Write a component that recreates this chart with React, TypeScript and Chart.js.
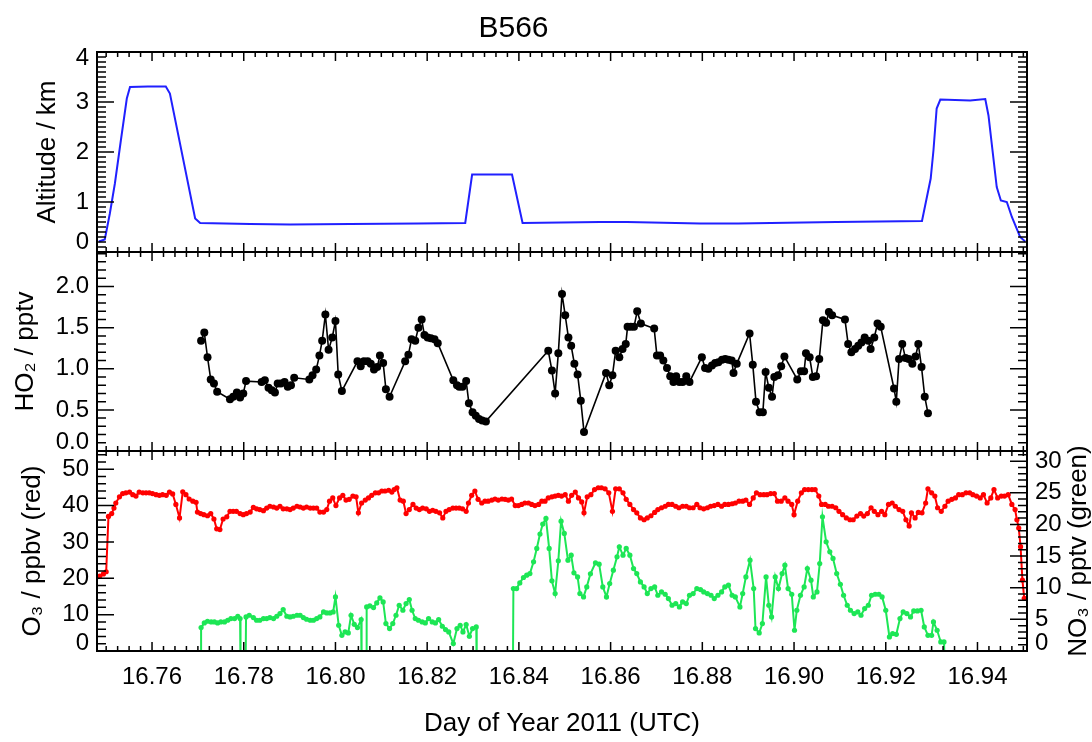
import React, { useEffect, useRef } from "react";
import { Chart, registerables } from "chart.js";

Chart.register(...registerables);

const FONT = "'Liberation Sans', Arial, Helvetica, sans-serif";
const PAGE_W = 1092;
const PAGE_H = 742;
const PLOT_LEFT = 97;
const PLOT_RIGHT = 1027;
const ALT_TOP = 52;
const ALT_BOTTOM = 252;
const HO2_BOTTOM = 451;
const O3_BOTTOM = 651;

const DAY_MIN = 16.748;
const DAY_MAX = 16.9508;

const dayTicks = [16.76, 16.78, 16.8, 16.82, 16.84, 16.86, 16.88, 16.9, 16.92, 16.94];
const altTicks = [0, 1, 2, 3, 4];
const ho2Ticks = [0, 0.5, 1.0, 1.5, 2.0];
const o3Ticks = [0, 10, 20, 30, 40, 50];
const no3Ticks = [0, 5, 10, 15, 20, 25, 30];

// Altitude (km)
const altDay = [
  16.7484, 16.7497, 16.7508, 16.7519, 16.7532, 16.7545, 16.7552, 16.7591, 16.763, 16.7639,
  16.7694, 16.7705, 16.7814, 16.7901, 16.8032, 16.818, 16.8283, 16.8298, 16.8337, 16.8385,
  16.8408, 16.8577, 16.8636, 16.8795, 16.8878, 16.9092, 16.9279, 16.9298, 16.9304, 16.9311,
  16.9319, 16.9384, 16.9417, 16.9424, 16.9442, 16.9451, 16.9464, 16.9475, 16.9493, 16.9504,
];
const altKm = [
  0.21, 0.25, 0.77, 1.37, 2.23, 3.07, 3.3, 3.31, 3.31, 3.17,
  0.67, 0.58, 0.56, 0.55, 0.56, 0.57, 0.58, 1.55, 1.55, 1.55,
  0.58, 0.6, 0.6, 0.57, 0.57, 0.6, 0.62, 1.47, 2.03, 2.87,
  3.05, 3.03, 3.06, 2.73, 1.3, 1.03, 1.0, 0.7, 0.3, 0.21,
];

// HO2 (pptv)
const ho2Day = [
  16.7707, 16.7714, 16.7721, 16.7728, 16.7735, 16.7742, 16.777, 16.7777, 16.7785, 16.7792,
  16.7799, 16.7805, 16.7839, 16.7846, 16.7854, 16.7861, 16.7868, 16.7874, 16.7881, 16.7889,
  16.7896, 16.7903, 16.791, 16.7943, 16.795, 16.7958, 16.7965, 16.7971, 16.7978, 16.7985,
  16.7993, 16.8, 16.8006, 16.8014, 16.8048, 16.8055, 16.8062, 16.807, 16.8077, 16.8084,
  16.8091, 16.8097, 16.8104, 16.811, 16.8118, 16.8152, 16.8159, 16.8166, 16.8174, 16.8181,
  16.8188, 16.8194, 16.8201, 16.8208, 16.8216, 16.8223, 16.8257, 16.8265, 16.827, 16.8277,
  16.8285, 16.8291, 16.8299, 16.8306, 16.8313, 16.832, 16.8328,
  16.8464, 16.8472, 16.8479, 16.8486, 16.8494, 16.8501, 16.8508, 16.8514, 16.8521, 16.8528,
  16.8535, 16.8542, 16.859, 16.8597, 16.8604, 16.8611, 16.8619, 16.8626, 16.8633, 16.8637,
  16.8644, 16.8651, 16.8658, 16.8666, 16.8695, 16.8701, 16.8708, 16.8715, 16.8723, 16.873,
  16.8737, 16.8743, 16.875, 16.8757, 16.8765, 16.8772, 16.8799, 16.8806, 16.8813, 16.8821,
  16.8828, 16.8835, 16.8843, 16.885, 16.8857, 16.8864, 16.8868, 16.8875, 16.8903, 16.891,
  16.8917, 16.8925, 16.8932, 16.8938, 16.8945, 16.8952, 16.8957, 16.8965, 16.8972, 16.8979,
  16.9007, 16.9015, 16.9022, 16.9026, 16.9034, 16.9041, 16.9048, 16.9055, 16.9063, 16.907,
  16.9076, 16.9083, 16.9111, 16.9118, 16.9125, 16.9133, 16.914, 16.9147, 16.9154, 16.9162,
  16.9167, 16.9175, 16.9182, 16.9189, 16.9218, 16.9223, 16.9229, 16.9236, 16.9243, 16.925,
  16.9258, 16.9265, 16.9271, 16.9278, 16.9285, 16.9292,
];
const ho2Pptv = [
  1.34, 1.44, 1.14, 0.87, 0.82, 0.72, 0.63, 0.66, 0.71, 0.65,
  0.7, 0.85, 0.84, 0.86, 0.77, 0.74, 0.71, 0.82, 0.82, 0.84,
  0.78, 0.8, 0.89, 0.87, 0.92, 0.99, 1.16, 1.34, 1.66, 1.23,
  1.38, 1.58, 0.93, 0.73, 1.09, 1.03, 1.09, 1.09, 1.06, 0.99,
  1.02, 1.16, 1.07, 0.75, 0.66, 1.09, 1.17, 1.36, 1.34, 1.5,
  1.6, 1.41, 1.38, 1.37, 1.36, 1.31, 0.86, 0.8, 0.78, 0.78,
  0.85, 0.58, 0.47, 0.43, 0.39, 0.37, 0.36,
  1.22, 0.98, 0.7, 1.19, 1.91, 1.65, 1.38, 1.28, 1.06, 0.93,
  0.61, 0.23, 0.95, 0.8, 0.92, 1.22, 1.14, 1.24, 1.3, 1.51,
  1.51, 1.51, 1.7, 1.55, 1.49, 1.16, 1.16, 1.1, 1.01, 0.91,
  0.84, 0.91, 0.84, 0.84, 0.91, 0.84, 1.14, 1.01, 1.0, 1.04,
  1.07, 1.08, 1.11, 1.12, 1.11, 1.1, 0.95, 1.06, 1.43, 1.05,
  0.6, 0.47, 0.47, 0.96, 0.77, 0.66, 0.9, 0.92, 1.03, 1.15,
  0.87, 0.97, 0.97, 1.19, 1.14, 0.9, 0.91, 1.12, 1.59, 1.56,
  1.69, 1.65, 1.6, 1.3, 1.2, 1.24, 1.28, 1.32, 1.38, 1.34,
  1.24, 1.38, 1.55, 1.51, 0.76, 0.6, 1.12, 1.3, 1.13, 1.12,
  1.06, 1.15, 1.3, 1.02, 0.66, 0.46,
];

// O3 (ppbv)
const o3Day = [
  16.7479, 16.7486, 16.7494, 16.75, 16.7505, 16.7512, 16.7517, 16.7521, 16.7529, 16.7536,
  16.7543, 16.7551, 16.7558, 16.7565, 16.7572, 16.758, 16.7587, 16.7594, 16.7601, 16.7609,
  16.7616, 16.7623, 16.7631, 16.7638, 16.7645, 16.7652, 16.766, 16.7667, 16.7674, 16.7681,
  16.7689, 16.7696, 16.7699, 16.7706, 16.7713, 16.7721, 16.7728, 16.7735, 16.7741, 16.7748,
  16.7755, 16.7763, 16.777, 16.7777, 16.7784, 16.7792, 16.7799, 16.7806, 16.7814, 16.7821,
  16.7828, 16.7835, 16.7843, 16.785, 16.7857, 16.7865, 16.7872, 16.7879, 16.7886, 16.7894,
  16.7901, 16.7908, 16.7916, 16.7923, 16.793, 16.7937, 16.7945, 16.7952, 16.7959, 16.7966,
  16.7974, 16.7981, 16.7987, 16.7994, 16.8001, 16.8009, 16.8016, 16.8023, 16.803, 16.8038,
  16.8045, 16.805, 16.8057, 16.8065, 16.8072, 16.8079, 16.8087, 16.8094, 16.8101, 16.8108,
  16.8116, 16.8123, 16.8128, 16.8134, 16.8141, 16.8148, 16.8154, 16.8161, 16.8169, 16.8176,
  16.8183, 16.819, 16.8198, 16.8205, 16.8212, 16.8219, 16.8227, 16.8234, 16.8241, 16.8248,
  16.8256, 16.8263, 16.827, 16.8277, 16.8285, 16.829, 16.8297, 16.8304, 16.8311, 16.8319,
  16.8326, 16.8333, 16.8341, 16.8348, 16.8355, 16.8363, 16.837, 16.8377, 16.8384, 16.8392,
  16.8399, 16.8406, 16.8413, 16.8421, 16.8428, 16.8435, 16.8443, 16.845, 16.8457, 16.8464,
  16.8472, 16.8479, 16.8486, 16.8493, 16.8501, 16.8508, 16.8515, 16.8523, 16.853, 16.8537,
  16.8542, 16.8549, 16.8557, 16.8565, 16.8573, 16.858, 16.8588, 16.8596, 16.8604, 16.8611,
  16.8619, 16.8627, 16.8634, 16.8642, 16.865, 16.8657, 16.8665, 16.8673, 16.868, 16.8688,
  16.8696, 16.8703, 16.8711, 16.8719, 16.8726, 16.8734, 16.8742, 16.8749, 16.8757, 16.8765,
  16.8772, 16.878, 16.8788, 16.8795, 16.8803, 16.8811, 16.8818, 16.8826, 16.8834, 16.8842,
  16.8849, 16.8857, 16.8865, 16.8872, 16.888, 16.8888, 16.8895, 16.8903, 16.8911, 16.8918,
  16.8926, 16.8934, 16.8941, 16.8949, 16.8957, 16.8964, 16.8972, 16.898, 16.8987, 16.8995,
  16.9, 16.9008, 16.9016, 16.9023, 16.9031, 16.9039, 16.9046, 16.9054, 16.906, 16.9068,
  16.9075, 16.9083, 16.9091, 16.9098, 16.9106, 16.9114, 16.9122, 16.9129, 16.9137, 16.9145,
  16.9152, 16.916, 16.9168, 16.9175, 16.9183, 16.9191, 16.9198, 16.9206, 16.9214, 16.9221,
  16.9229, 16.9237, 16.9244, 16.9251, 16.9256, 16.9264, 16.9271, 16.9279, 16.9287, 16.9292,
  16.93, 16.9307, 16.9313, 16.9321, 16.9329, 16.9336, 16.9344, 16.9352, 16.9359, 16.9367,
  16.9375, 16.9383, 16.939, 16.9398, 16.9406, 16.9413, 16.9421, 16.9429, 16.9436, 16.9444,
  16.9452, 16.9459, 16.9467, 16.9475, 16.9482, 16.9486, 16.949, 16.9494, 16.9498, 16.9502,
];
const o3Ppbv = [
  20.3, 20.6, 21.2, 21.8, 37.0, 37.8, 39.3, 40.7, 42.4, 43.3,
  43.5, 43.7, 43.0, 42.6, 43.7, 43.5, 43.5, 43.5, 43.3, 43.0,
  42.8, 43.0, 42.8, 43.7, 43.2, 40.3, 36.6, 43.8, 43.0, 41.8,
  41.2, 40.9, 38.2, 37.8, 37.5, 37.2, 37.8, 36.3, 33.6, 33.4,
  36.3, 36.9, 38.4, 38.4, 38.4, 37.8, 37.5, 37.8, 38.2, 39.5,
  39.1, 38.9, 38.6, 39.3, 39.8, 39.6, 39.3, 39.8, 39.1, 39.1,
  38.9, 39.3, 39.8, 39.6, 39.3, 39.6, 39.3, 39.3, 39.3, 38.2,
  38.2, 38.9, 41.2, 42.1, 40.0, 42.1, 42.8, 41.5, 41.7, 42.6,
  42.4, 38.0, 40.7, 41.5, 42.1, 42.8, 43.5, 43.5, 44.0, 44.0,
  44.2, 43.7, 44.4, 44.9, 41.5, 41.2, 37.8, 38.9, 40.3, 39.3,
  38.9, 39.3, 39.1, 38.4, 38.7, 38.4, 38.0, 36.6, 38.4, 38.9,
  39.3, 39.3, 39.3, 39.1, 38.4, 40.7, 42.8, 44.0, 41.7, 40.7,
  41.2, 41.2, 41.5, 41.8, 41.5, 41.8, 41.7, 41.5, 41.8, 40.0,
  40.0, 40.3, 40.7, 40.7, 40.3, 40.0, 40.3, 41.2, 41.2, 42.1,
  42.4, 42.6, 42.8, 42.6, 43.0, 41.2, 42.8, 43.7, 42.1, 41.0,
  38.0, 42.4, 43.0, 44.4, 44.9, 44.9, 44.6, 43.5, 38.4, 44.6,
  44.6, 43.5, 41.7, 40.3, 38.9, 38.0, 36.6, 36.1, 36.6, 37.2,
  38.1, 38.9, 39.4, 39.8, 40.3, 40.3, 39.8, 39.4, 39.8, 39.8,
  39.4, 39.4, 40.3, 39.4, 39.1, 39.4, 39.8, 40.0, 40.3, 39.8,
  40.3, 40.3, 40.5, 40.7, 41.2, 41.2, 41.5, 40.3, 42.1, 43.5,
  43.0, 43.0, 43.0, 43.3, 43.3, 41.2, 41.2, 42.1, 41.2, 40.3,
  37.5, 41.2, 43.5, 44.4, 44.4, 44.4, 44.4, 42.6, 40.3, 40.3,
  39.8, 39.8, 39.4, 38.4, 37.5, 36.6, 36.1, 36.1, 37.1, 37.8,
  37.1, 37.8, 39.4, 38.4, 37.5, 38.4, 37.5, 40.3, 40.7, 39.8,
  38.9, 38.4, 36.1, 34.4, 38.0, 36.6, 38.1, 38.0, 40.7, 44.6,
  43.5, 42.6, 39.4, 38.4, 39.8, 41.2, 41.7, 42.1, 43.0, 43.0,
  43.5, 43.5, 43.0, 42.6, 42.1, 43.0, 40.7, 42.1, 44.4, 42.1,
  42.6, 42.6, 43.0, 40.3, 38.9, 36.1, 33.8, 28.7, 19.5, 14.5,
];

// NO3 (pptv); values below the axis floor mark drop-outs, null marks a gap
const no3Day = [
  16.7707, 16.7707, 16.7714, 16.7721, 16.7729, 16.7736, 16.7743, 16.775, 16.7758, 16.7765,
  16.7772, 16.778, 16.7787, 16.7792, 16.7793, 16.7804, 16.7805, 16.7812, 16.7821, 16.7828,
  16.7835, 16.7843, 16.785, 16.7857, 16.7865, 16.7872, 16.7879, 16.7886, 16.7894, 16.7901,
  16.7908, 16.7916, 16.7923, 16.793, 16.7937, 16.7945, 16.7952, 16.7959, 16.7966, 16.7974,
  16.7981, 16.7988, 16.7995, 16.8, 16.8007, 16.8014, 16.8021, 16.8028, 16.8034, 16.8041,
  16.8048, 16.8056, 16.8057, 16.8067, 16.8068, 16.8075, 16.8083, 16.809, 16.8097, 16.8104,
  16.811, 16.8118, 16.8125, 16.8132, 16.8139, 16.8147, 16.8154, 16.8161, 16.8167, 16.8174,
  16.8181, 16.8189, 16.8196, 16.8203, 16.8211, 16.8218, 16.8225, 16.8233, 16.824, 16.8247,
  16.8257, 16.8265, 16.8272, 16.8278, 16.8285, 16.8292, 16.8299, 16.8307, 16.8308, 16.835,
  16.8387, 16.8388, 16.8395, 16.8402, 16.841, 16.8417, 16.8424, 16.8432, 16.8439, 16.8446,
  16.8452, 16.8459, 16.8466, 16.8472, 16.8479, 16.8486, 16.8492, 16.8499, 16.8507, 16.8514,
  16.852, 16.8528, 16.8533, 16.8541, 16.8548, 16.8556, 16.8567, 16.8575, 16.8583, 16.8591,
  16.8598, 16.8606, 16.8614, 16.8619, 16.8627, 16.8634, 16.8642, 16.865, 16.8657, 16.8665,
  16.8673, 16.868, 16.8688, 16.8696, 16.8703, 16.8711, 16.8719, 16.8726, 16.8734, 16.8742,
  16.875, 16.8757, 16.8765, 16.8772, 16.878, 16.8788, 16.8796, 16.8803, 16.8811, 16.8819,
  16.8826, 16.8834, 16.8842, 16.8849, 16.8857, 16.8865, 16.8872, 16.8882, 16.8888, 16.8895,
  16.8904, 16.8912, 16.8916, 16.8924, 16.8931, 16.8939, 16.8945, 16.8951, 16.8959, 16.8966,
  16.8974, 16.898, 16.8987, 16.8995, 16.9001, 16.9006, 16.9014, 16.9022, 16.9029, 16.9037,
  16.9042, 16.905, 16.9056, 16.9062, 16.907, 16.9078, 16.9085, 16.9093, 16.9101, 16.9108,
  16.9116, 16.9123, 16.9131, 16.9139, 16.9146, 16.9154, 16.9162, 16.9169, 16.9177, 16.9185,
  16.9192, 16.92, 16.9208, 16.9215, 16.9223, 16.9231, 16.9238, 16.9246, 16.9254, 16.9261,
  16.9269, 16.9277, 16.9284, 16.9292, 16.93, 16.9304, 16.9312, 16.932, 16.9327, 16.9329,
];
const no3Pptv = [
  -3, 3.7, 4.44, 4.7, 4.59, 4.59, 4.44, 4.59, 4.59, 4.86,
  5.12, 5.12, 5.49, 5.12, -3, -3, 5.38, 5.65, 5.28, 4.86,
  4.86, 5.12, 5.12, 5.28, 5.12, 5.49, 5.91, 6.55, 5.49, 5.38,
  5.49, 5.65, 5.65, 5.28, 5.02, 4.86, 4.86, 5.12, 5.38, 6.18,
  6.02, 6.02, 6.18, 8.55, 4.07, 2.48, 3.01, 2.85, 5.65, 4.22,
  3.7, 4.96, -3, -3, 6.97, 7.13, 6.86, 7.6, 8.39, 7.76,
  4.33, 3.54, 4.33, 5.65, 7.23, 6.44, 7.5, 8.13, 6.44, 5.12,
  4.86, 4.59, 4.44, 5.12, 4.59, 4.44, 4.96, 3.91, 3.38, 3.01,
  1.17, 3.54, 4.07, 3.01, 4.17, 2.33, 3.54, 3.8, -3, null,
  -3, 9.87, 9.87, 10.76, 11.61, 11.98, 12.24, 14.09, 16.2, 18.47,
  20.05, 20.94, 16.2, 11.08, 9.08, 14.25, 20.52, 18.57, 14.35, 15.14,
  12.35, 11.71, 9.08, 8.55, 10.13, 12.2, 13.93, 13.72, 10.13, 8.55,
  10.66, 12.77, 14.88, 16.46, 15.14, 16.2, 15.14, 13.03, 12.24, 10.92,
  10.13, 9.08, 9.87, 10.13, 8.81, 9.34, 8.97, 8.29, 7.23, 7.5,
  6.97, 7.76, 7.5, 8.81, 9.08, 9.87, 9.71, 9.34, 9.08, 8.81,
  8.29, 8.81, 9.34, 10.13, 10.4, 8.81, 8.55, 6.97, 9.08, 11.71,
  14.35, 9.87, 3.54, 2.85, 4.33, 11.71, 7.23, 5.38, 11.71, 9.87,
  12.24, 13.56, 9.87, 8.97, 3.28, 6.44, 8.81, 10.13, 13.03, 11.19,
  8.55, 9.34, 13.82, 21.21, 17.25, 15.67, 14.62, 12.24, 10.55, 8.81,
  7.23, 6.44, 5.91, 6.18, 5.65, 6.7, 7.23, 8.81, 8.97, 8.97,
  8.55, 6.44, 2.22, 2.75, 2.64, 5.12, 6.18, 5.91, 5.38, 6.33,
  6.33, 6.44, 3.8, 2.48, 2.48, 4.59, 3.28, 1.43, 1.43, -3,
];

const pairs = (xs: number[], ys: (number | null)[]) => xs.map((x, i) => ({ x, y: ys[i] }));

const TICK_SIZE = 24;
const tickFont = { family: FONT, size: TICK_SIZE };
const axisTitleFont = { family: FONT, size: 26 };

const tickFrame = {
  id: "tickFrame",
  afterDatasetsDraw(chart: any, _args: any, opts: any) {
    const { ctx, chartArea: a } = chart;
    const xs = chart.scales.x;
    ctx.save();
    ctx.strokeStyle = "#000";
    ctx.lineWidth = 1.5;
    ctx.beginPath();
    const xStep = 0.0025;
    for (let i = Math.ceil(xs.min / xStep - 1e-9); i * xStep <= xs.max + 1e-9; i++) {
      const px = xs.getPixelForValue(i * xStep);
      const len = i % 8 === 0 ? 9 : 5;
      ctx.moveTo(px, a.top);
      ctx.lineTo(px, a.top + len);
      ctx.moveTo(px, a.bottom);
      ctx.lineTo(px, a.bottom - len);
    }
    const side = (where: string, cfg: any) => {
      const s = chart.scales[cfg.id];
      for (let i = Math.ceil(s.min / cfg.step - 1e-9); i * cfg.step <= s.max + 1e-9; i++) {
        const py = s.getPixelForValue(i * cfg.step);
        const len = i % cfg.ratio === 0 ? 17 : 9;
        if (where === "left") {
          ctx.moveTo(a.left, py);
          ctx.lineTo(a.left + len, py);
        } else {
          ctx.moveTo(a.right, py);
          ctx.lineTo(a.right - len, py);
        }
      }
    };
    side("left", opts.left);
    side("right", opts.right);
    ctx.stroke();
    ctx.lineWidth = 2;
    ctx.strokeRect(a.left, a.top, a.right - a.left, a.bottom - a.top);
    ctx.restore();
  },
};

const rotatedTitle = {
  id: "rotatedTitle",
  afterDraw(chart: any, _args: any, opts: any) {
    if (!opts || !opts.text) return;
    const { ctx, chartArea: a } = chart;
    ctx.save();
    ctx.translate(opts.x, (a.top + a.bottom) / 2);
    ctx.rotate(-Math.PI / 2);
    ctx.font = `${opts.size}px ${FONT}`;
    ctx.fillStyle = "#000";
    ctx.textAlign = "center";
    ctx.textBaseline = "middle";
    ctx.fillText(opts.text, 0, 0);
    ctx.restore();
  },
};

// End labels are pulled inside the panel (as in the reference) by drawing them as
// two-line labels whose empty line has a small line height.
function yAxis(o: {
  min: number;
  max: number;
  values: number[];
  digits: number;
  position: string;
  width: number;
  title?: string;
  titlePad?: number;
  lowShift?: number;
  highShift?: number;
}) {
  const first = o.values[0];
  const last = o.values[o.values.length - 1];
  return {
    type: "linear",
    position: o.position,
    min: o.min,
    max: o.max,
    afterFit: (s: any) => {
      s.width = o.width;
    },
    afterBuildTicks: (s: any) => {
      s.ticks = o.values.map((v) => ({ value: v }));
    },
    grid: { display: false, drawTicks: false },
    border: { display: false },
    ticks: {
      color: "#000",
      padding: 8,
      autoSkip: false,
      font: (c: any) => {
        const v = c.tick ? c.tick.value : undefined;
        let lh: any = 1.2;
        if (o.lowShift && v === first) lh = `${2 * o.lowShift}px`;
        else if (o.highShift && v === last) lh = `${2 * o.highShift}px`;
        return { family: FONT, size: TICK_SIZE, lineHeight: lh };
      },
      callback: (v: any) => {
        const s = Number(v).toFixed(o.digits);
        if (o.lowShift && v === first) return [s, ""];
        if (o.highShift && v === last) return ["", s];
        return s;
      },
    },
    title: o.title
      ? {
          display: true,
          text: o.title,
          color: "#000",
          font: axisTitleFont,
          padding: { top: o.titlePad ?? 0, bottom: 0 },
        }
      : { display: false },
  };
}

const hiddenX = { type: "linear", display: false, min: DAY_MIN, max: DAY_MAX };

const common = {
  responsive: false,
  animation: false,
  devicePixelRatio: 1,
  events: [],
};

function altConfig(): any {
  return {
    type: "line",
    data: {
      datasets: [
        {
          data: pairs(altDay, altKm),
          borderColor: "#2020ff",
          borderWidth: 2,
          pointRadius: 0,
          tension: 0,
          clip: 0,
        },
      ],
    },
    options: {
      ...common,
      layout: { padding: { left: 0, right: PAGE_W - PLOT_RIGHT, top: 0, bottom: PAGE_H - ALT_BOTTOM } },
      plugins: {
        legend: { display: false },
        tooltip: { enabled: false },
        title: {
          display: true,
          text: "B566",
          color: "#000",
          font: { family: FONT, size: 30, weight: "normal", lineHeight: 1.2 },
          padding: { top: 11, bottom: ALT_TOP - 11 - 36 },
        },
        tickFrame: { left: { id: "y", step: 0.1, ratio: 10 }, right: { id: "y", step: 0.1, ratio: 10 } },
      },
      scales: {
        x: hiddenX,
        y: yAxis({
          min: 0, max: 4, values: altTicks, digits: 0, position: "left", width: PLOT_LEFT,
          title: "Altitude / km", titlePad: 32, lowShift: 9.5, highShift: 6,
        }),
      },
    },
    plugins: [tickFrame],
  };
}

function ho2Config(): any {
  return {
    type: "line",
    data: {
      datasets: [
        {
          data: pairs(ho2Day, ho2Pptv),
          borderColor: "#000",
          backgroundColor: "#000",
          borderWidth: 1.6,
          pointRadius: 4,
          pointBorderWidth: 0,
          tension: 0,
          clip: 0,
        },
      ],
    },
    options: {
      ...common,
      layout: { padding: { left: 0, right: PAGE_W - PLOT_RIGHT, top: ALT_BOTTOM, bottom: PAGE_H - HO2_BOTTOM } },
      plugins: {
        legend: { display: false },
        tooltip: { enabled: false },
        tickFrame: { left: { id: "y", step: 0.1, ratio: 5 }, right: { id: "y", step: 0.1, ratio: 5 } },
      },
      scales: {
        x: hiddenX,
        y: yAxis({
          min: 0, max: 2.42, values: ho2Ticks, digits: 1, position: "left", width: PLOT_LEFT,
          title: "HO\u2082 / pptv", titlePad: 10, lowShift: 9,
        }),
      },
    },
    plugins: [tickFrame],
  };
}

function o3Config(): any {
  return {
    type: "line",
    data: {
      datasets: [
        {
          data: pairs(no3Day, no3Pptv),
          yAxisID: "y2",
          borderColor: "#1de655",
          backgroundColor: "#1de655",
          borderWidth: 2,
          pointRadius: 2.6,
          pointBorderWidth: 0,
          tension: 0,
          clip: 0,
        },
        {
          data: pairs(o3Day, o3Ppbv),
          yAxisID: "y",
          borderColor: "#ff0000",
          backgroundColor: "#ff0000",
          borderWidth: 2,
          pointRadius: 2.6,
          pointBorderWidth: 0,
          tension: 0,
          clip: 0,
        },
      ],
    },
    options: {
      ...common,
      layout: { padding: { left: 0, right: 0, top: HO2_BOTTOM, bottom: 0 } },
      plugins: {
        legend: { display: false },
        tooltip: { enabled: false },
        tickFrame: { left: { id: "y", step: 2, ratio: 5 }, right: { id: "y2", step: 1, ratio: 5 } },
        rotatedTitle: { text: "NO\u2083 / pptv (green)", x: 1079, size: 26 },
      },
      scales: {
        x: {
          type: "linear",
          position: "bottom",
          min: DAY_MIN,
          max: DAY_MAX,
          afterFit: (s: any) => {
            s.height = PAGE_H - O3_BOTTOM;
          },
          afterBuildTicks: (s: any) => {
            s.ticks = dayTicks.map((v) => ({ value: v }));
          },
          grid: { display: false, drawTicks: false },
          border: { display: false },
          ticks: {
            color: "#000",
            font: tickFont,
            padding: 12,
            maxRotation: 0,
            autoSkip: false,
            callback: (v: any) => Number(v).toFixed(2),
          },
          title: {
            display: true,
            text: "Day of Year 2011 (UTC)",
            color: "#000",
            font: axisTitleFont,
            padding: { top: 0, bottom: 3 },
          },
        },
        y: yAxis({
          min: 0, max: 55, values: o3Ticks, digits: 0, position: "left", width: PLOT_LEFT,
          title: "O\u2083 / ppbv (red)", titlePad: 17, lowShift: 8,
        }),
        y2: yAxis({
          min: 0, max: 31.6, values: no3Ticks, digits: 0, position: "right", width: PAGE_W - PLOT_RIGHT,
          lowShift: 8,
        }),
      },
    },
    plugins: [tickFrame, rotatedTitle],
  };
}

export default function App() {
  const c1 = useRef<HTMLCanvasElement>(null);
  const c2 = useRef<HTMLCanvasElement>(null);
  const c3 = useRef<HTMLCanvasElement>(null);

  useEffect(() => {
    const charts = [
      new Chart(c1.current as HTMLCanvasElement, altConfig()),
      new Chart(c2.current as HTMLCanvasElement, ho2Config()),
      new Chart(c3.current as HTMLCanvasElement, o3Config()),
    ];
    return () => charts.forEach((c) => c.destroy());
  }, []);

  const layer: React.CSSProperties = { position: "absolute", left: 0, top: 0 };
  return (
    <div style={{ position: "absolute", left: 0, top: 0, width: PAGE_W, height: PAGE_H, background: "#fff" }}>
      <canvas ref={c1} width={PAGE_W} height={PAGE_H} style={layer} />
      <canvas ref={c2} width={PAGE_W} height={PAGE_H} style={layer} />
      <canvas ref={c3} width={PAGE_W} height={PAGE_H} style={layer} />
    </div>
  );
}
